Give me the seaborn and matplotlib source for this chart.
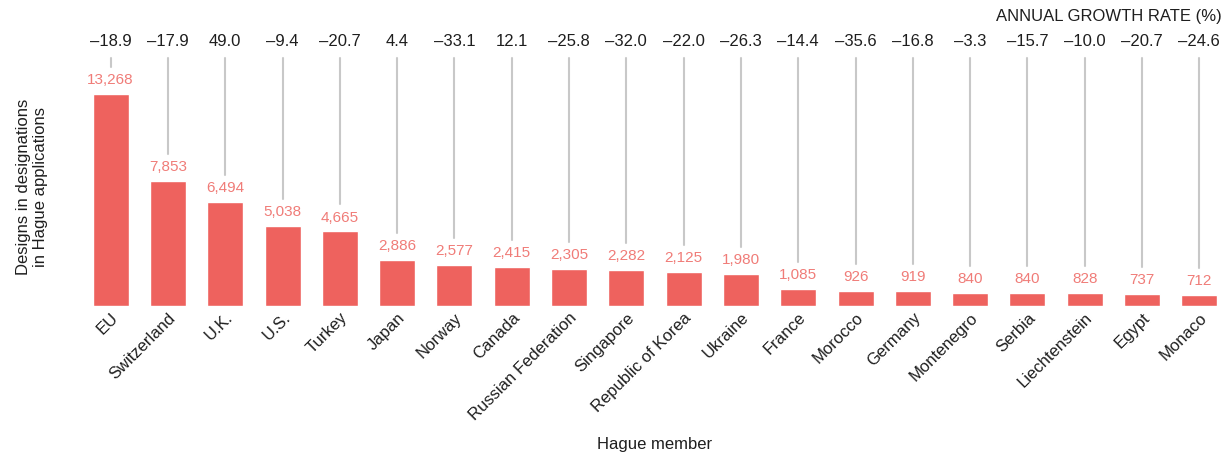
import pandas as pd
import matplotlib
matplotlib.use("Agg")
import matplotlib.pyplot as plt
import matplotlib.transforms as mtransforms
import seaborn as sns

# data
members = ['EU', 'Switzerland', 'U.K.', 'U.S.', 'Turkey', 'Japan', 'Norway', 'Canada',
           'Russian Federation', 'Singapore', 'Republic of Korea', 'Ukraine', 'France',
           'Morocco', 'Germany', 'Montenegro', 'Serbia', 'Liechtenstein', 'Egypt', 'Monaco']
designs = [13268, 7853, 6494, 5038, 4665, 2886, 2577, 2415, 2305, 2282, 2125, 1980,
           1085, 926, 919, 840, 840, 828, 737, 712]
growth = [-18.9, -17.9, 49.0, -9.4, -20.7, 4.4, -33.1, 12.1, -25.8, -32.0, -22.0, -26.3,
          -14.4, -35.6, -16.8, -3.3, -15.7, -10.0, -20.7, -24.6]

df = pd.DataFrame({'member': members, 'designs': designs, 'growth': growth})

sns.set_style('white')
plt.rcParams['font.family'] = ['Liberation Sans', 'DejaVu Sans']

bar_color = '#EE625E'
label_color = '#F07C78'
text_color = '#1e1e1e'

fig = plt.figure(figsize=(12.3, 4.59), dpi=100)
W, H = 1230, 459
ax = fig.add_axes([82 / W, 153 / H, 1146 / W, 276 / H])

sns.barplot(data=df, x='member', y='designs', color=bar_color, width=0.63,
            saturation=1, ax=ax)

ax.set_xlim(-0.5, len(members) - 0.5)
ymax = 276 / 212 * designs[0]
ax.set_ylim(0, ymax)
sns.despine(ax=ax, left=True, bottom=True, top=True, right=True)
ax.set_yticks([])
ax.tick_params(axis='x', length=0, pad=3, colors=text_color)
ax.set_xticks(range(len(members)))
ax.set_xticklabels(members, rotation=45, ha='right', rotation_mode='anchor', fontsize=12)

# value labels above bars
for i, v in enumerate(designs):
    ax.annotate(f'{v:,}', (i, v), xytext=(0, 5), textcoords='offset points',
                ha='center', va='bottom', color=label_color, fontsize=11)

# growth rates along the top with grey connectors
px_per_unit = 276 / ymax
trans = mtransforms.blended_transform_factory(ax.transData, ax.transAxes)
line_top = (306 - 58) / 276
for i, (v, g) in enumerate(zip(designs, growth)):
    ax.text(i, (306 - 42) / 276, f'{g:.1f}'.replace('-', '\u2013'), transform=trans,
            ha='center', va='center', fontsize=12, color=text_color)
    bottom = (v + 27 / px_per_unit) / ymax
    ax.plot([i, i], [bottom, line_top], transform=trans, color='#c8c8c8', lw=1.5,
            zorder=0, clip_on=False)

fig.text(1222 / W, 1 - 17 / H, 'ANNUAL GROWTH RATE (%)', ha='right', va='center',
         fontsize=12, color=text_color)

ax.set_ylabel('Designs in designations\nin Hague applications', fontsize=12,
              color=text_color)
ax.yaxis.set_label_coords((48 - 82) / 1146, (306 - 187) / 276)
ax.set_xlabel('Hague member', fontsize=12, color=text_color)
ax.xaxis.set_label_coords(0.5, (306 - 437) / 276)

fig.savefig('out.png', dpi=100)
